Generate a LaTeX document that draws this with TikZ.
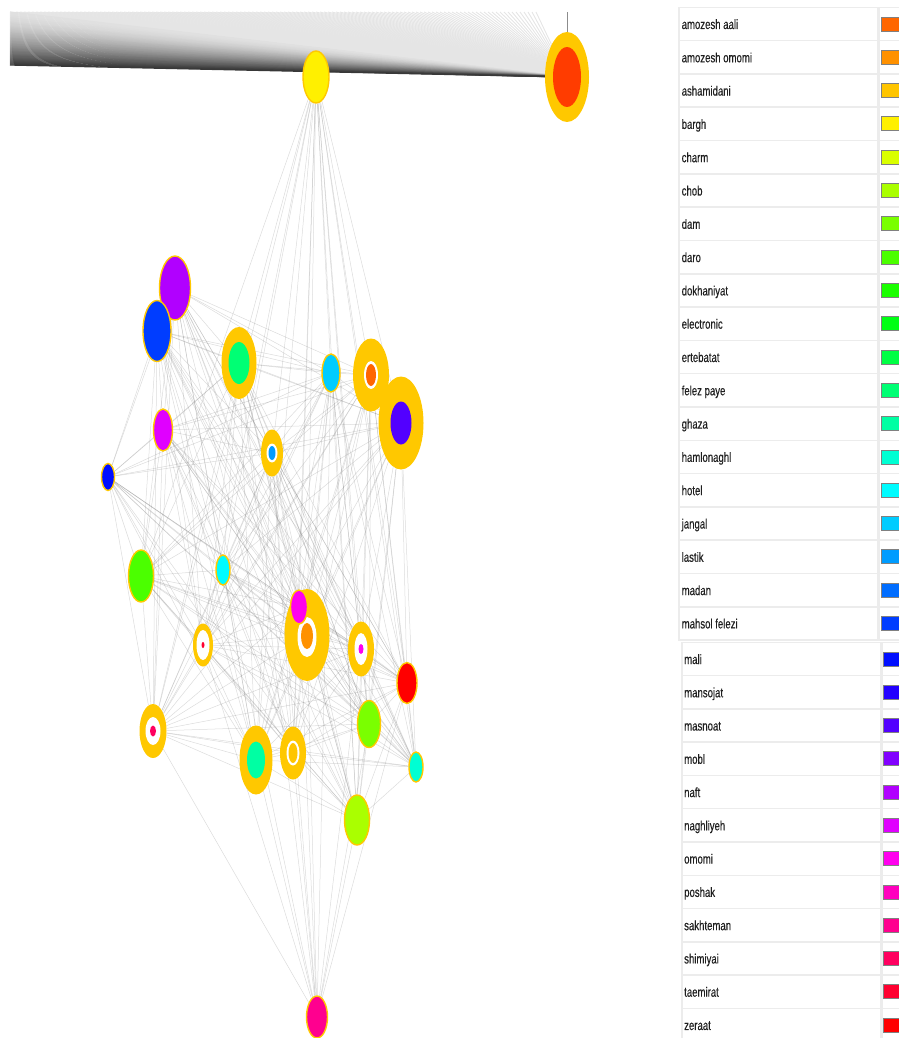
\documentclass[tikz,border=0pt]{standalone}
\usepackage{fontspec}
\usepackage{xcolor}
\usepackage{tikz}
\usetikzlibrary{shapes.geometric, positioning, backgrounds}
\newfontfamily\legendfont[FakeStretch=0.71, FakeBold=0.3]{Liberation Sans}
% category colours, as in the legend
\definecolor{amozeshaali}{RGB}{255,102,0}
\definecolor{amozeshomomi}{RGB}{255,145,0}
\definecolor{ashamidani}{RGB}{255,197,0}
\definecolor{bargh}{RGB}{255,240,0}
\definecolor{charm}{RGB}{218,255,0}
\definecolor{chob}{RGB}{170,255,0}
\definecolor{dam}{RGB}{122,255,0}
\definecolor{daro}{RGB}{75,255,0}
\definecolor{dokhaniyat}{RGB}{27,255,0}
\definecolor{electronic}{RGB}{0,255,20}
\definecolor{ertebatat}{RGB}{0,255,68}
\definecolor{felezpaye}{RGB}{0,255,116}
\definecolor{ghaza}{RGB}{0,255,163}
\definecolor{hamlonaghl}{RGB}{0,255,211}
\definecolor{hotel}{RGB}{0,252,255}
\definecolor{jangal}{RGB}{0,204,255}
\definecolor{lastik}{RGB}{0,156,255}
\definecolor{madan}{RGB}{0,109,255}
\definecolor{mahsolfelezi}{RGB}{0,61,255}
\definecolor{mali}{RGB}{0,14,255}
\definecolor{mansojat}{RGB}{34,0,255}
\definecolor{masnoat}{RGB}{82,0,255}
\definecolor{mobl}{RGB}{129,0,255}
\definecolor{naft}{RGB}{177,0,255}
\definecolor{naghliyeh}{RGB}{224,0,255}
\definecolor{omomi}{RGB}{255,0,238}
\definecolor{poshak}{RGB}{255,0,190}
\definecolor{sakhteman}{RGB}{255,0,143}
\definecolor{shimiyai}{RGB}{255,0,95}
\definecolor{taemirat}{RGB}{255,0,48}
\definecolor{zeraat}{RGB}{255,0,0}
\definecolor{ringgold}{RGB}{255,200,0}
\definecolor{topred}{RGB}{255,60,0}
\definecolor{cellline}{RGB}{236,236,236}
\definecolor{swatchline}{RGB}{128,128,128}

\begin{document}
\begin{tikzpicture}[
    x=1pt, y=-1pt,
    dot/.style={ellipse, inner sep=0pt, draw=ringgold, line width=1.4pt},
    ring/.style={ellipse, inner sep=0pt, fill=ringgold},
    hole/.style={ellipse, inner sep=0pt, fill=white},
    core/.style={ellipse, inner sep=0pt},
    sz/.style 2 args={minimum width=#1pt, minimum height=#2pt},
    link/.style={draw=black!55, line width=0.5pt, opacity=0.25},
    fanline/.style={line width=1.3pt},
    rimline/.style={draw=black!10, line width=0.9pt},
    cell/.style={draw=cellline, line width=1.5pt, fill=white, minimum height=33.3pt, inner sep=0pt},
    entry/.style={font=\legendfont\fontsize{13.5}{15}\selectfont, text=black!88, anchor=base west, inner sep=0pt},
    swatch/.style={draw=swatchline, line width=0.8pt, minimum width=30pt, minimum height=14pt, inner sep=0pt, anchor=west}
]
    \useasboundingbox (0,0) rectangle (898,1038);

    % Top nodes
    \node[dot, sz={26}{52}, fill=bargh] (bargh) at (316,77) {};
    \node[ring, sz={44}{90}] (aali) at (567,77) {};
    \node[core, sz={28}{60}, fill=topred] (aaliIn) at (567,77) {};

    % Cluster
    \node[dot, sz={31}{64}, fill=naft] (naft) at (175,288) {};
    \node[dot, sz={28}{61}, fill=mahsolfelezi] (mahsol) at (157,331) {};
    \node[ring, sz={35}{72}] (felez) at (239,363) {};
    \node[core, sz={21}{42}, fill=felezpaye] (felezIn) at (239,363) {};
    \node[dot, sz={18}{38}, fill=jangal] (jangal) at (331,373) {};
    \node[ring, sz={36}{73}] (amozesh) at (371,375) {};
    \node[hole, sz={14}{28}] (amozeshHole) at (371,375) {};
    \node[core, sz={10}{22}, fill=amozeshaali] (amozeshIn) at (371,375) {};
    \node[ring, sz={45}{93}] (masnoat) at (401,423) {};
    \node[core, sz={21}{43}, fill=masnoat] (masnoatIn) at (401,423) {};
    \node[dot, sz={19}{42}, fill=naghliyeh] (naghl) at (163,430) {};
    \node[ring, sz={22}{47}] (lastik) at (272,453) {};
    \node[hole, sz={11}{19}] (lastikHole) at (272,453) {};
    \node[core, sz={7}{14}, fill=lastik] (lastikIn) at (272,453) {};
    \node[dot, sz={13}{27}, fill=mali] (mali) at (108,477) {};
    \node[dot, sz={25}{52}, fill=daro] (daro) at (141,576) {};
    \node[dot, sz={14}{30}, fill=hotel] (hotel) at (223,570) {};
    \node[ring, sz={20}{43}] (taemir) at (203,645) {};
    \node[hole, sz={13}{30}] (taemirHole) at (203,645) {};
    \node[core, sz={3}{6}, fill=taemirat] (taemirIn) at (203,645) {};
    \node[ring, sz={45}{92}] (center) at (307,635) {};
    \node[hole, sz={19}{40}] (centerHole) at (307,637) {};
    \node[core, sz={12}{26}, fill=amozeshomomi] (centerIn) at (307,636) {};
    \node[dot, sz={17}{34}, fill=omomi] (omomi) at (299,607) {};
    \node[ring, sz={26}{55}] (poshak) at (361,649) {};
    \node[hole, sz={13}{32}] (poshakHole) at (361,649) {};
    \node[core, sz={5}{10}, fill=omomi] (poshakIn) at (361,649) {};
    \node[dot, sz={20}{41}, fill=zeraat] (zeraat) at (407,683) {};
    \node[dot, sz={23}{47}, fill=dam] (dam) at (369,724) {};
    \node[ring, sz={27}{54}] (shimi) at (153,731) {};
    \node[hole, sz={15}{28}] (shimiHole) at (153,731) {};
    \node[core, sz={6}{11}, fill=shimiyai] (shimiIn) at (153,731) {};
    \node[ring, sz={33}{69}] (ghaza) at (256,760) {};
    \node[core, sz={18}{37}, fill=ghaza] (ghazaIn) at (256,760) {};
    \node[ring, sz={26}{53}] (ashami) at (293,753) {};
    \node[hole, sz={13}{25}] (ashamiHole) at (293,753) {};
    \node[core, sz={9}{20}, fill=ashamidani] (ashamiIn) at (293,753) {};
    \node[dot, sz={14}{30}, fill=hamlonaghl] (hamlo) at (416,767) {};
    \node[dot, sz={25}{50}, fill=chob] (chob) at (357,820) {};
    \node[dot, sz={21}{42}, fill=sakhteman] (sakhteman) at (317,1017) {};

    \begin{scope}[on background layer]
        % fan into the top node
        \foreach \x in {16,20,...,536} {
            \coordinate (rim\x) at (\x,12);
            \draw[rimline] (rim\x) -- (aali);
        }
        \foreach \k in {0,...,53} {
            \pgfmathtruncatemacro\tone{12+66*(\k/53)^1.6}
            \coordinate (fan\k) at (10,12+\k);
            \draw[fanline, draw=black!\tone] (fan\k) -- (aali);
        }
        \coordinate (aaliTop) at (567,12);
        \draw[draw=black!45, line width=0.8pt] (aali) -- (aaliTop);

        % links
        \foreach \n in {felez, jangal, amozesh, masnoat, lastik, daro, hotel, taemir, center, omomi, poshak, zeraat, dam, shimi, ghaza, ashami, hamlo, chob}
            \draw[link] (bargh) -- (\n);
        \foreach \n in {shimi, ghaza, ashami, center, lastik, taemir, hotel, felez, omomi, poshak, dam, chob, zeraat, jangal}
            \draw[link] (sakhteman) -- (\n);
        \foreach \a [count=\i] in {naft, mahsol, felez, jangal, amozesh, masnoat, naghl, lastik, mali, daro, hotel, taemir, center, omomi, poshak, zeraat, dam, shimi, ghaza, ashami, hamlo, chob} {
            \foreach \b [count=\j] in {naft, mahsol, felez, jangal, amozesh, masnoat, naghl, lastik, mali, daro, hotel, taemir, center, omomi, poshak, zeraat, dam, shimi, ghaza, ashami, hamlo, chob} {
                \ifnum\j>\i \draw[link] (\a) -- (\b); \fi
            }
        }
    \end{scope}

    % Legend, upper part
    \foreach \name/\col [count=\k from 0] in {amozesh aali/amozeshaali, amozesh omomi/amozeshomomi, ashamidani/ashamidani, bargh/bargh, charm/charm, chob/chob, dam/dam, daro/daro, dokhaniyat/dokhaniyat, electronic/electronic, ertebatat/ertebatat, felez paye/felezpaye, ghaza/ghaza, hamlonaghl/hamlonaghl, hotel/hotel, jangal/jangal, lastik/lastik, madan/madan, mahsol felezi/mahsolfelezi} {
        \pgfmathsetmacro\ry{24+33.3*\k}
        \node[cell, minimum width=199pt] (row\k) at (778.5,\ry) {};
        \node[cell, minimum width=40pt, right=0pt of row\k] (box\k) {};
        \node[entry] (name\k) at (681.5,\ry+5) {\name};
        \node[swatch, fill=\col] (sw\k) at (881,\ry) {};
    }
    % Legend, lower part
    \foreach \name/\col [count=\k from 19] in {mali/mali, mansojat/mansojat, masnoat/masnoat, mobl/mobl, naft/naft, naghliyeh/naghliyeh, omomi/omomi, poshak/poshak, sakhteman/sakhteman, shimiyai/shimiyai, taemirat/taemirat, zeraat/zeraat} {
        \pgfmathsetmacro\ry{659+33.27*(\k-19)}
        \node[cell, minimum width=199pt] (row\k) at (781.5,\ry) {};
        \node[cell, minimum width=40pt, right=0pt of row\k] (box\k) {};
        \node[entry] (name\k) at (684,\ry+5) {\name};
        \node[swatch, fill=\col] (sw\k) at (883,\ry) {};
    }
\end{tikzpicture}
\end{document}
